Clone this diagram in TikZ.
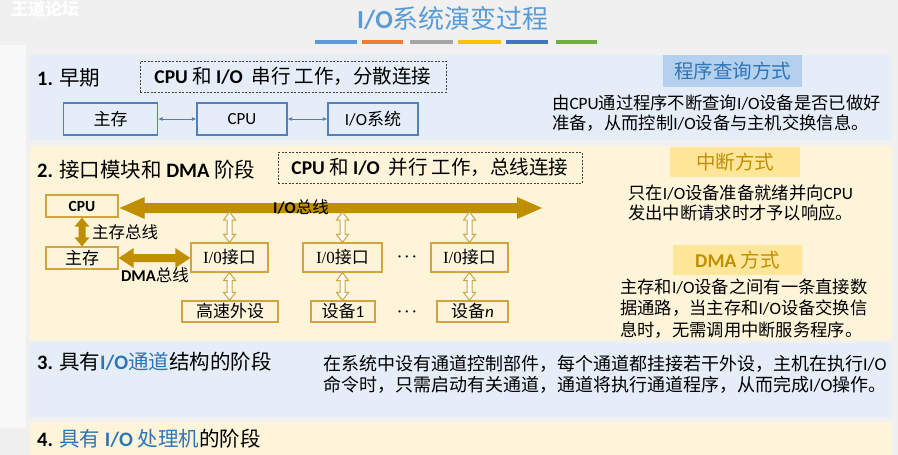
\documentclass[tikz,border=0pt]{standalone}
\usepackage{fontspec}
\setmainfont{Noto Sans CJK SC}
\newfontfamily\lat{Carlito}
\newfontfamily\serifl{Liberation Serif}
\usetikzlibrary{calc,arrows.meta}

\definecolor{pagebg}{HTML}{F0F0F0}
\definecolor{stripbg}{HTML}{F8F8F8}
\definecolor{panelblue}{HTML}{E5EDF8}
\definecolor{panelcream}{HTML}{FDF4DA}
\definecolor{titleblue}{HTML}{5B9BD5}
\definecolor{textblue}{HTML}{2E75B6}
\definecolor{tagblue}{HTML}{B4D0EF}
\definecolor{taggold}{HTML}{FFE699}
\definecolor{goldtext}{HTML}{BF9000}
\definecolor{goldbar}{HTML}{BF8F00}
\definecolor{goldline}{HTML}{D0A540}
\definecolor{boxblue}{HTML}{4F81BD}
\definecolor{barA}{HTML}{5B9BD5}
\definecolor{barB}{HTML}{ED7D31}
\definecolor{barC}{HTML}{A5A5A5}
\definecolor{barD}{HTML}{FFC000}
\definecolor{barE}{HTML}{4472C4}
\definecolor{barF}{HTML}{70AD47}

% Latin runs in Calibri-like letters
\newcommand\La[1]{{\lat #1}}
\newcommand\Lb[1]{{\lat\bfseries #1}}

% double-headed block arrows: style, start, end, shaft half width, head half width, head length
\newcommand\hdbl[6]{\path[#1] (#2) -- ($(#2)+(#6,-#5)$) -- ($(#2)+(#6,-#4)$) -- ($(#3)+(-#6,-#4)$) -- ($(#3)+(-#6,-#5)$) -- (#3) -- ($(#3)+(-#6,#5)$) -- ($(#3)+(-#6,#4)$) -- ($(#2)+(#6,#4)$) -- ($(#2)+(#6,#5)$) -- cycle;}
\newcommand\vdbl[6]{\path[#1] (#2) -- ($(#2)+(#5,#6)$) -- ($(#2)+(#4,#6)$) -- ($(#3)+(#4,-#6)$) -- ($(#3)+(#5,-#6)$) -- (#3) -- ($(#3)+(-#5,-#6)$) -- ($(#3)+(-#4,-#6)$) -- ($(#2)+(-#4,#6)$) -- ($(#2)+(-#5,#6)$) -- cycle;}

\tikzset{
  hdr/.style={anchor=west, inner sep=0pt, font=\fontsize{20.5}{24}\selectfont},
  note/.style={anchor=west, inner sep=0pt, align=left, font=\fontsize{17.3}{20.5}\selectfont},
  modebox/.style={draw=black!75, dashed, dash pattern=on 2pt off 1.5pt, line width=0.8pt,
    inner sep=0pt, font=\fontsize{19.5}{22}\selectfont},
  bbox/.style={draw=boxblue, line width=1.1pt, minimum height=32pt, inner sep=0pt,
    font=\fontsize{17}{20}\selectfont},
  gbox/.style={draw=goldline, line width=1.3pt, inner sep=0pt, font=\fontsize{17}{20}\selectfont},
  tag/.style={inner sep=0pt, font=\fontsize{19.5}{22}\selectfont},
  barrow/.style={draw=boxblue, line width=0.8pt, {Latex[length=4.5pt,width=4pt]}-{Latex[length=4.5pt,width=4pt]}},
  solidarrow/.style={fill=goldbar},
  hollowarrow/.style={draw=goldline, fill=white, line width=1pt, line join=miter},
  buslabel/.style={inner sep=0pt, font=\fontsize{16.5}{19}\selectfont},
  ellip/.style={inner sep=0pt, font=\fontsize{14}{16}\selectfont\boldmath}
}

\begin{document}
\begin{tikzpicture}[x=1pt,y=-1pt]
\useasboundingbox (0,0) rectangle (898,455);
\fill[pagebg] (0,0) rectangle (898,455);
\fill[stripbg] (0,45) rectangle (26,428);

% panels
\fill[panelblue]  (30,55)  rectangle (892,140);
\fill[panelcream] (30,146) rectangle (892,340);
\fill[panelblue]  (30,343) rectangle (892,417);
\fill[panelcream] (30,422) rectangle (892,455);

% header
\node[anchor=west, inner sep=0pt, text=white, font=\fontsize{17}{20}\selectfont\bfseries] (mark) at (11,9) {王道论坛};
\node[inner sep=0pt, text=titleblue, font=\fontsize{26}{30}\selectfont] (title) at (453,19) {\Lb{I/O}系统演变过程};
\foreach \c/\a/\b in {barA/315/357, barB/362/403, barC/410/453, barD/458/501, barE/506/548, barF/556/597}
  \draw[\c, line width=3.5pt] (\a,42) -- (\b,42);

% ---- 1. early stage
\node[hdr] (h1) at (37,78) {\Lb{1.} 早期};
\node[modebox, minimum width=306pt, minimum height=31pt] (mode1) at (293,76.5) {\Lb{CPU} 和 \Lb{I/O}\ \ 串行 工作，分散连接};
\node[bbox, minimum width=94pt] (mem1) at (110.5,119) {主存};
\node[bbox, minimum width=90pt] (cpu1) at (242,119) {\La{CPU}};
\node[bbox, minimum width=90pt] (io1)  at (373,119) {\La{I/O}系统};
\draw[barrow] (mem1) -- (cpu1);
\draw[barrow] (cpu1) -- (io1);

\node[tag, fill=tagblue, text=textblue, minimum width=139pt, minimum height=32pt] (tagpoll) at (732.5,71) {程序查询方式};
\node[note] (notepoll) at (552,113) {由\La{CPU}通过程序不断查询\La{I/O}设备是否已做好\\准备，从而控制\La{I/O}设备与主机交换信息。};

% ---- 2. interface module and DMA
\node[hdr] (h2) at (37,170) {\Lb{2.} 接口模块和 \Lb{DMA} 阶段};
\node[modebox, minimum width=304pt, minimum height=31pt] (mode2) at (430,167.5) {\Lb{CPU} 和 \Lb{I/O}\ \ 并行 工作，总线连接};

\node[gbox, minimum width=72pt, minimum height=22pt, font=\fontsize{15.5}{18}\selectfont] (cpu2) at (82,206) {\Lb{CPU}};
\node[gbox, minimum width=72pt, minimum height=22pt] (mem2) at (82,258) {主存};
\node[gbox, minimum width=77pt, minimum height=29pt] (iof1) at (229.5,257.5) {{\serifl I/0}接口};
\node[gbox, minimum width=79pt, minimum height=29pt] (iof2) at (342.5,257.5) {{\serifl I/0}接口};
\node[gbox, minimum width=77pt, minimum height=29pt] (iof3) at (469.5,257.5) {{\serifl I/0}接口};
\node[gbox, minimum width=96pt, minimum height=21pt] (dev0) at (230,311.5) {高速外设};
\node[gbox, minimum width=64pt, minimum height=21pt] (dev1) at (343,311.5) {设备\La{1}};
\node[gbox, minimum width=71pt, minimum height=21pt] (devn) at (472.5,311.5) {设备{\lat\itshape n}};
\node[ellip] (dotsA) at (407,257) {$\cdots$};
\node[ellip] (dotsB) at (407,312) {$\cdots$};

% I/O bus
\coordinate (busL) at ($(cpu2.east)+(1,2)$);
\coordinate (busR) at (542,208);
\hdbl{solidarrow}{busL}{busR}{5}{11}{25}
\node[buslabel] (buslbl) at (301,207) {\Lb{I/O}总线};

% memory bus and DMA bus
\vdbl{solidarrow}{cpu2.south}{mem2.north}{3.5}{7.5}{9}
\node[buslabel, anchor=west] (memlbl) at (92,232) {主存总线};
\coordinate (dmaR) at (mem2.east -| iof1.west);
\hdbl{solidarrow}{mem2.east}{dmaR}{4}{10}{15}
\node[buslabel] (dmalbl) at (155,275) {\Lb{DMA}总线};

% links between bus, interfaces and devices
\coordinate (busb) at (0,212);
\foreach \i/\d in {iof1/dev0, iof2/dev1, iof3/devn}{
  \coordinate (\i top) at (\i.north |- busb);
  \coordinate (\i low) at (\i.south |- \d.north);
  \vdbl{hollowarrow}{\i top}{\i.north}{2.5}{6}{8}
  \vdbl{hollowarrow}{\i.south}{\i low}{2.5}{6}{8}
}

\node[tag, fill=taggold, text=goldtext, minimum width=130pt, minimum height=30pt] (tagint) at (735,162) {中断方式};
\node[note] (noteint) at (628,203) {只在\La{I/O}设备准备就绪并向\La{CPU}\\发出中断请求时才予以响应。};
\node[tag, fill=taggold, text=goldtext, minimum width=129pt, minimum height=30pt] (tagdma) at (737.5,260) {\Lb{DMA} 方式};
\node[note, font=\fontsize{17.3}{21.5}\selectfont] (notedma) at (620,308.5) {主存和\La{I/O}设备之间有一条直接数\\据通路，当主存和\La{I/O}设备交换信\\息时，无需调用中断服务程序。};

% ---- 3. channel stage
\node[hdr] (h3) at (37,362) {\Lb{3.} 具有{\color{textblue}\Lb{I/O}通道}结构的阶段};
\node[note, font=\fontsize{18}{21}\selectfont] (notech) at (323,374) {在系统中设有通道控制部件，每个通道都挂接若干外设，主机在执行\La{I/O}\\命令时，只需启动有关通道，通道将执行通道程序，从而完成\La{I/O}操作。};

% ---- 4. I/O processor stage
\node[hdr] (h4) at (37,439) {\Lb{4.} {\color{textblue}具有 \Lb{I/O} 处理机}的阶段};
\end{tikzpicture}
\end{document}
